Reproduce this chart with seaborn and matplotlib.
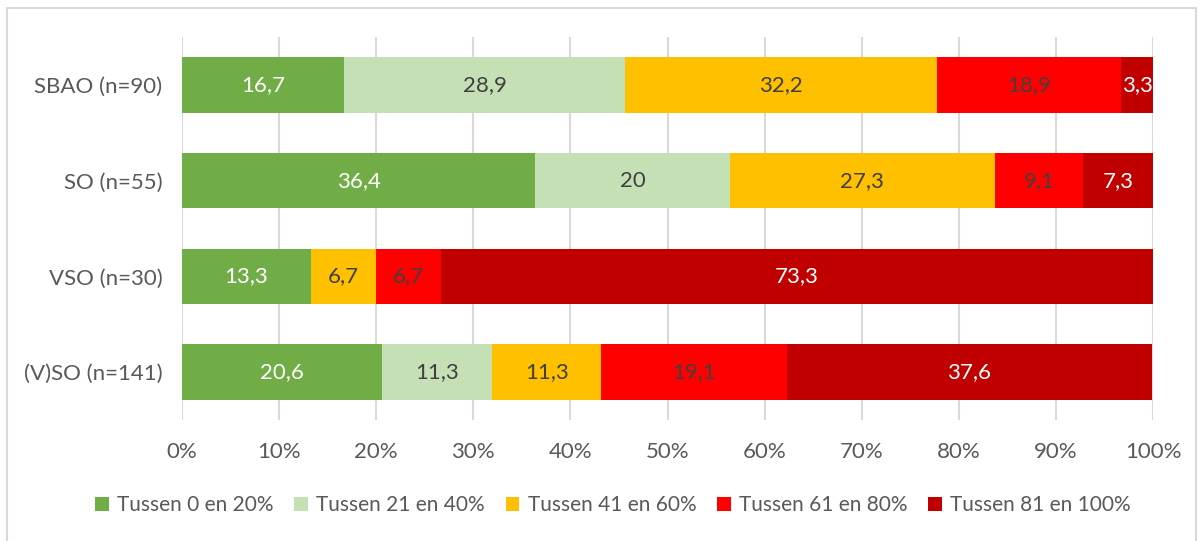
import numpy as np
import pandas as pd
import matplotlib
matplotlib.use("Agg")
import matplotlib.pyplot as plt
from matplotlib.patches import Rectangle, Patch
import seaborn as sns

categories = ["SBAO (n=90)", "SO (n=55)", "VSO (n=30)", "(V)SO (n=141)"]
series_names = ["Tussen 0 en 20%", "Tussen 21 en 40%", "Tussen 41 en 60%",
                "Tussen 61 en 80%", "Tussen 81 en 100%"]
s1 = [16.7, 36.4, 13.3, 20.6]
s2 = [28.9, 20.0, 0.0, 11.3]
s3 = [32.2, 27.3, 6.7, 11.3]
s4 = [18.9, 9.1, 6.7, 19.1]
s5 = [3.3, 7.3, 73.3, 37.6]
labels_s1 = ["16,7", "36,4", "13,3", "20,6"]
labels_s2 = ["28,9", "20", "", "11,3"]
labels_s3 = ["32,2", "27,3", "6,7", "11,3"]
labels_s4 = ["18,9", "9,1", "6,7", "19,1"]
labels_s5 = ["3,3", "7,3", "73,3", "37,6"]
xticks = [0, 10, 20, 30, 40, 50, 60, 70, 80, 90, 100]

colors = ["#70AD47", "#C5E0B4", "#FFC000", "#FF0000", "#C00000"]
label_colors = ["white", "#404040", "#404040", "#404040", "white"]

sns.set_theme(style="white")
plt.rcParams['font.family'] = ['Lato', 'DejaVu Sans']

fig = plt.figure(figsize=(12.03, 5.41), dpi=100)
W, H = 1203, 541
ax = fig.add_axes([182 / W, 1 - 420 / H, (1153 - 182) / W, (420 - 37) / H])

series = [s1, s2, s3, s4, s5]
labels = [labels_s1, labels_s2, labels_s3, labels_s4, labels_s5]
cum = np.cumsum(np.array(series), axis=0)
starts = cum - np.array(series)

for i in range(len(series) - 1, -1, -1):
    df = pd.DataFrame({"cat": categories, "val": cum[i]})
    sns.barplot(data=df, x="val", y="cat", color=colors[i], orient="h",
                width=0.58, ax=ax, saturation=1, zorder=2, edgecolor="none")

for i in range(len(series)):
    for j, cat in enumerate(categories):
        if labels[i][j]:
            ax.text(starts[i][j] + series[i][j] / 2, j, labels[i][j],
                    ha="center", va="center", fontsize=16,
                    color=label_colors[i], zorder=4)

ax.set_xlim(0, 100)
ax.set_ylim(3.5, -0.5)
ax.set_xticks(xticks)
ax.set_xticklabels([f"{t}%" for t in xticks])
ax.xaxis.grid(True, color="#D9D9D9", linewidth=1.5, zorder=0)
ax.set_axisbelow(True)
for s in ax.spines.values():
    s.set_visible(False)
ax.tick_params(axis="both", length=0, labelsize=16, labelcolor="#595959")
ax.tick_params(axis="x", pad=16)
ax.tick_params(axis="y", pad=14)
ax.set_xlabel("")
ax.set_ylabel("")

handles = [Patch(facecolor=c, edgecolor="none") for c in colors]
fig.legend(handles, series_names, loc="center", bbox_to_anchor=(613 / W, 1 - 505 / H),
           ncol=5, frameon=False, fontsize=15, labelcolor="#595959",
           handlelength=0.65, handleheight=0.65, handletextpad=0.4, columnspacing=1.0)

fig.patches.append(Rectangle((7 / W, -0.01), (1196 - 7) / W, 1 - 8 / H + 0.01,
                             transform=fig.transFigure, fill=False,
                             edgecolor="#D9D9D9", linewidth=1.5))

fig.savefig("out.png", dpi=100)
